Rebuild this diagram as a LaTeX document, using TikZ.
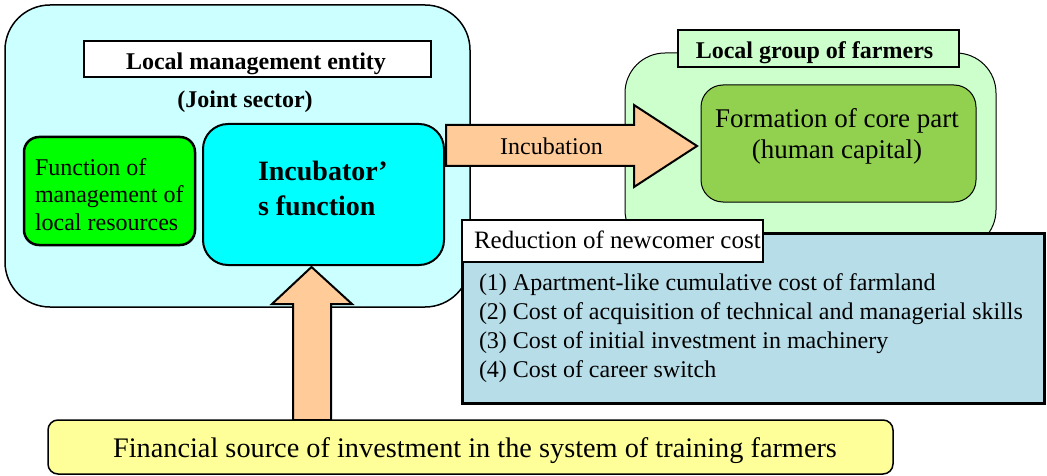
\documentclass[tikz,border=0pt]{standalone}
\usepackage{fontspec}
\setmainfont{Liberation Serif}
\definecolor{outerc}{HTML}{CCFFFF}
\definecolor{greenc}{HTML}{00FF00}
\definecolor{incc}{HTML}{00FFFF}
\definecolor{groupc}{HTML}{CCFFCC}
\definecolor{corec}{HTML}{92D050}
\definecolor{arrowc}{HTML}{FFCC99}
\definecolor{bluec}{HTML}{B7DDE8}
\definecolor{yellowc}{HTML}{FFFF99}
\newcommand\fsz[2]{\fontsize{#1}{#2}\selectfont}
\tikzset{
  box/.style={draw, inner sep=0pt, outer sep=0pt},
  txt/.style={inner sep=0pt, outer sep=0pt},
  blockarrow/.style={draw, fill=arrowc, line width=2pt, line join=miter},
}
\begin{document}
\begin{tikzpicture}[x=1pt,y=-1pt]
\useasboundingbox (0,0) rectangle (1047,476);
% left big box
\node[box, fill=outerc, line width=1.5pt, rounded corners=45pt, minimum width=465pt, minimum height=302pt] (outer) at (237.5,156) {};
\node[box, fill=white, line width=1.5pt, minimum width=347pt, minimum height=36pt] (lmebox) at (257.5,59) {};
\node[txt, anchor=base, font=\bfseries\fsz{24}{29}] (lme) at (256,70) {Local management entity};
\node[txt, anchor=base, font=\bfseries\fsz{24}{29}] (joint) at (245,108) {(Joint sector)};
\node[box, fill=greenc, line width=2.5pt, rounded corners=15pt, minimum width=171pt, minimum height=108pt] (green) at (109.5,191) {};
\node[txt, anchor=base west, align=left, font=\fsz{24}{27.5}] (greentxt) at (35,230) {Function of\\management of\\local resources};
\node[box, fill=incc, line width=2pt, rounded corners=25pt, minimum width=241pt, minimum height=141pt] (inc) at (323.5,194.5) {};
\node[txt, anchor=base west, align=left, font=\bfseries\fsz{28}{35}] (inctxt) at (258,215) {Incubator’\\s function};
% right group
\node[box, fill=groupc, line width=1pt, rounded corners=40pt, minimum width=371pt, minimum height=197pt] (group) at (810.5,151.5) {};
\node[box, fill=groupc, line width=1.5pt, minimum width=281pt, minimum height=37pt] (grouplbl) at (818.5,48.5) {};
\node[txt, anchor=base, font=\bfseries\fsz{24}{29}] (grouptxt) at (814.5,59) {Local group of farmers};
\node[box, fill=corec, line width=1pt, rounded corners=22pt, minimum width=275pt, minimum height=117pt] (core) at (838.5,143.5) {};
\node[txt, anchor=base, align=center, font=\fsz{27}{31}] (coretxt) at (837,158) {Formation of core part\\(human capital)};
% incubation arrow
\draw[blockarrow] (446,125) -- (634,125) -- (634,105) -- (697,146) -- (634,187) -- (634,166) -- (446,166) -- cycle;
\node[txt, anchor=base, font=\fsz{24}{29}] (incub) at (551.5,154) {Incubation};
% cost box
\node[box, fill=bluec, line width=3pt, minimum width=582pt, minimum height=170pt] (blue) at (753,318) {};
\node[box, fill=white, line width=2pt, minimum width=301pt, minimum height=42pt] (redbox) at (612.5,241) {};
\node[txt, anchor=base west, font=\fsz{25}{29}] (redtxt) at (474,248) {Reduction of newcomer cost};
\node[txt, anchor=base west, align=left, font=\fsz{24}{29}] (list) at (479,377) {(1) Apartment-like cumulative cost of farmland\\(2) Cost of acquisition of technical and managerial skills\\(3) Cost of initial investment in machinery\\(4) Cost of career switch};
% up arrow
\draw[blockarrow] (293,420) -- (293,304) -- (272,304) -- (311.5,267) -- (352,304) -- (331,304) -- (331,420) -- cycle;
% bottom box
\node[box, fill=yellowc, line width=1.5pt, rounded corners=10pt, minimum width=845pt, minimum height=54pt] (yellow) at (470.5,447) {};
\node[txt, anchor=base, font=\fsz{28.3}{32}] (fin) at (475,457) {Financial source of investment in the system of training farmers};
\end{tikzpicture}
\end{document}
